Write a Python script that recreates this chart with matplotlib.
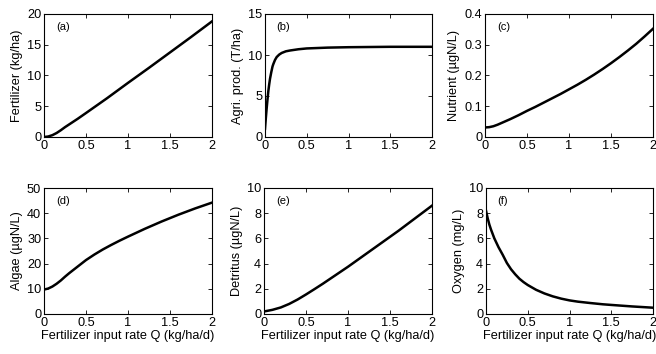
import matplotlib
matplotlib.use('Agg')
import matplotlib.pyplot as plt
import numpy as np

plt.rcParams['font.family'] = ['Liberation Sans', 'DejaVu Sans']

## values
q_fert = [0, 0.05, 0.1, 0.15, 0.2, 0.25, 0.3, 0.4, 0.5, 0.75, 1, 1.25, 1.5, 1.75, 2]
fertilizer = [0, 0.08, 0.3, 0.65, 1.1, 1.6, 2.05, 2.95, 3.9, 6.3, 8.8, 11.25, 13.75, 16.25, 18.8]

q_agri = [0, 0.01, 0.02, 0.03, 0.04, 0.05, 0.06, 0.075, 0.09, 0.1, 0.12, 0.14, 0.17,
          0.2, 0.25, 0.3, 0.4, 0.5, 0.75, 1, 1.5, 2]
agri = [1.0, 2.3, 3.5, 4.6, 5.6, 6.4, 7.1, 7.9, 8.6, 8.9, 9.4, 9.75, 10.05,
        10.25, 10.45, 10.55, 10.7, 10.8, 10.9, 10.95, 11.0, 11.0]

q_nut = [0, 0.05, 0.1, 0.15, 0.2, 0.3, 0.4, 0.5, 0.6, 0.7, 0.8, 0.9, 1,
         1.1, 1.2, 1.3, 1.4, 1.5, 1.6, 1.7, 1.8, 1.9, 2]
nutrient = [0.031, 0.032, 0.035, 0.04, 0.046, 0.058, 0.071, 0.085, 0.098, 0.112, 0.126, 0.14, 0.155,
            0.17, 0.186, 0.203, 0.221, 0.24, 0.26, 0.281, 0.303, 0.327, 0.352]

q_alg = [0, 0.05, 0.1, 0.15, 0.2, 0.25, 0.3, 0.35, 0.4, 0.5, 0.6, 0.7, 0.8, 0.9, 1,
         1.2, 1.4, 1.6, 1.8, 2]
algae = [9.7, 10.1, 10.9, 12.0, 13.3, 14.8, 16.2, 17.5, 18.8, 21.4, 23.6, 25.6, 27.4, 29.1, 30.7,
         33.8, 36.7, 39.4, 41.9, 44.2]

q_det = [0, 0.1, 0.2, 0.3, 0.4, 0.5, 0.6, 0.7, 0.8, 0.9, 1, 1.2, 1.4, 1.6, 1.8, 2]
detritus = [0.2, 0.33, 0.52, 0.8, 1.15, 1.55, 1.97, 2.4, 2.85, 3.3, 3.75, 4.7, 5.65, 6.6, 7.6, 8.6]

q_oxy = [0, 0.02, 0.04, 0.06, 0.08, 0.1, 0.125, 0.15, 0.175, 0.2, 0.25, 0.3, 0.35, 0.4,
         0.45, 0.5, 0.6, 0.7, 0.8, 0.9, 1, 1.1, 1.25, 1.4, 1.5, 1.75, 2]
oxygen = [8.2, 7.6, 7.1, 6.7, 6.35, 6.0, 5.65, 5.3, 5.0, 4.7, 4.05, 3.55, 3.15, 2.8,
          2.53, 2.3, 1.92, 1.63, 1.4, 1.22, 1.08, 0.98, 0.87, 0.77, 0.72, 0.6, 0.5]

panels = [
    (q_fert, fertilizer, 'Fertilizer (kg/ha)', '(a)', 20, [0, 5, 10, 15, 20]),
    (q_agri, agri, 'Agri. prod. (T/ha)', '(b)', 15, [0, 5, 10, 15]),
    (q_nut, nutrient, 'Nutrient (\u00b5gN/L)', '(c)', 0.4, [0, 0.1, 0.2, 0.3, 0.4]),
    (q_alg, algae, 'Algae (\u00b5gN/L)', '(d)', 50, [0, 10, 20, 30, 40, 50]),
    (q_det, detritus, 'Detritus (\u00b5gN/L)', '(e)', 10, [0, 2, 4, 6, 8, 10]),
    (q_oxy, oxygen, 'Oxygen (mg/L)', '(f)', 10, [0, 2, 4, 6, 8, 10]),
]

W, H = 656.0, 354.0
## axes boxes in pixels: left, top, right, bottom
boxes = [
    (44, 14, 212, 137), (265, 14, 432, 137), (485, 14, 653, 137),
    (44, 188, 212, 314), (264, 188, 432, 314), (486, 188, 653, 314),
]

fig = plt.figure(figsize=(6.56, 3.54), dpi=100)

for i, (x, y, ylab, tag, ymax, yt) in enumerate(panels):
    l, t, r, b = boxes[i]
    ax = fig.add_axes([l / W, 1 - b / H, (r - l) / W, (b - t) / H])
    ax.plot(x, y, color='black', linewidth=1.8, solid_joinstyle='round')
    ax.set_xlim(0, 2)
    ax.set_ylim(0, ymax)
    ax.set_xticks([0, 0.5, 1, 1.5, 2])
    ax.set_xticklabels(['0', '0.5', '1', '1.5', '2'])
    ax.set_yticks(yt)
    ax.set_yticklabels(['%g' % v for v in yt])
    ax.tick_params(direction='in', top=True, right=True, length=3, width=0.6,
                   labelsize=9.2, pad=2)
    for s in ax.spines.values():
        s.set_linewidth(0.8)
    ax.set_ylabel(ylab, fontsize=9.2, labelpad=3)
    ax.text(0.07, 0.87, tag, transform=ax.transAxes, fontsize=8)
    if i >= 3:
        ax.set_xlabel('Fertilizer input rate Q (kg/ha/d)', fontsize=9.2, labelpad=1)

fig.savefig('out.png', dpi=100)
